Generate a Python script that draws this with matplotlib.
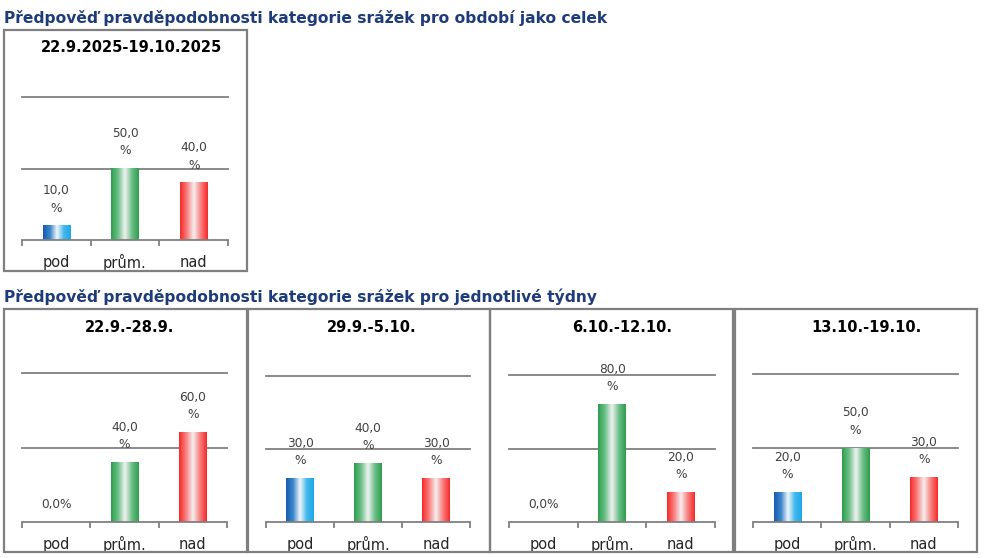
import numpy as np
import matplotlib
matplotlib.use("Agg")
import matplotlib.pyplot as plt
from matplotlib.colors import LinearSegmentedColormap
from matplotlib.patches import Rectangle

W, H = 991, 558
DPI = 100

header_top = "Předpověď pravděpodobnosti kategorie srážek pro období jako celek"
header_bottom = "Předpověď pravděpodobnosti kategorie srážek pro jednotlivé týdny"
categories = ["pod", "prům.", "nad"]

period_titles = ["22.9.2025-19.10.2025", "22.9.-28.9.", "29.9.-5.10.", "6.10.-12.10.", "13.10.-19.10."]
pod_values = [10.0, 0.0, 30.0, 0.0, 20.0]
prum_values = [50.0, 40.0, 40.0, 80.0, 50.0]
nad_values = [40.0, 60.0, 30.0, 20.0, 30.0]
gridlines = [50, 100]

# layout in pixels: box (x0, y0, x1, y1), axes (x0, x1, y_base, y_top100)
boxes = [(4, 30, 247, 271), (4, 309, 247, 552), (248, 309, 490, 552),
         (490, 309, 733, 552), (735, 309, 977, 552)]
axes_px = [(22, 228, 240, 97), (22, 227, 522, 373), (266, 470, 522, 376),
           (509, 715, 522, 375), (753, 958, 522, 374)]
title_cx = [132, 130, 372, 622, 866]

cmaps = [
    LinearSegmentedColormap.from_list("b", ["#1A5EAE", "#3A86CC", "#F2F6FA", "#44B8EE", "#1FA8E8"]),
    LinearSegmentedColormap.from_list("g", ["#2E9E4E", "#6CC088", "#F2F2F2", "#6CC088", "#2E9E4E"]),
    LinearSegmentedColormap.from_list("r", ["#F52A2A", "#FA8080", "#F4F0F0", "#FA8080", "#F52A2A"]),
]

fig = plt.figure(figsize=(W / DPI, H / DPI), dpi=DPI)
fig.patch.set_facecolor("white")

def fx(px):
    return px / W

def fy(py):
    return 1 - py / H

fig.text(fx(4), fy(18), header_top, fontsize=11.2, fontweight="bold",
         color="#1F3C7A", va="center", ha="left")
fig.text(fx(4), fy(297), header_bottom, fontsize=11.2, fontweight="bold",
         color="#1F3C7A", va="center", ha="left")

for bx in boxes:
    fig.patches.append(Rectangle((fx(bx[0]), fy(bx[3])), fx(bx[2] - bx[0]),
                                 (bx[3] - bx[1]) / H, transform=fig.transFigure,
                                 fill=False, edgecolor="#7F7F7F", linewidth=1.6))

grad = np.linspace(0, 1, 64).reshape(1, -1)
bw = 0.4

for i in range(len(period_titles)):
    x0, x1, yb, yt = axes_px[i]
    bx = boxes[i]
    ax = fig.add_axes([fx(x0), fy(yb), fx(x1 - x0), (yb - yt) / H])
    ax.set_xlim(-0.5, 2.5)
    ax.set_ylim(0, 100)
    ax.set_facecolor("none")
    for s in ["top", "left", "right"]:
        ax.spines[s].set_visible(False)
    ax.spines["bottom"].set_color("#808080")
    ax.spines["bottom"].set_linewidth(1.3)
    ax.set_yticks([])
    ax.set_xticks([-0.5, 0.5, 1.5, 2.5])
    ax.set_xticklabels([])
    ax.tick_params(axis="x", direction="out", length=4, width=1.3, color="#808080")
    for g in gridlines:
        ax.axhline(g, color="#808080", linewidth=1.3, zorder=1, clip_on=False)
    vals = [pod_values[i], prum_values[i], nad_values[i]]
    for k, v in enumerate(vals):
        if v > 0:
            ax.imshow(grad, cmap=cmaps[k], aspect="auto",
                      extent=(k - bw / 2, k + bw / 2, 0, v), zorder=2,
                      interpolation="bilinear")
            lbl = f"{v:.1f}".replace(".", ",") + "\n%"
        else:
            lbl = f"{v:.1f}".replace(".", ",") + "%"
        ax.annotate(lbl, (k, v), xytext=(0, 8), textcoords="offset points",
                    ha="center", va="bottom", fontsize=8.7, color="#404040",
                    linespacing=1.45, zorder=3, annotation_clip=False)
        ax.annotate(categories[k], (k, 0), xytext=(0, -16), textcoords="offset points",
                    ha="center", va="center", fontsize=10.5, color="#262626",
                    annotation_clip=False)
    ax.set_xlim(-0.5, 2.5)
    ax.set_ylim(0, 100)
    fig.text(fx(title_cx[i]), fy(bx[1] + 18), period_titles[i], fontsize=10.5,
             fontweight="bold", color="black", ha="center", va="center")

fig.savefig("out.png", dpi=DPI, facecolor="white")
